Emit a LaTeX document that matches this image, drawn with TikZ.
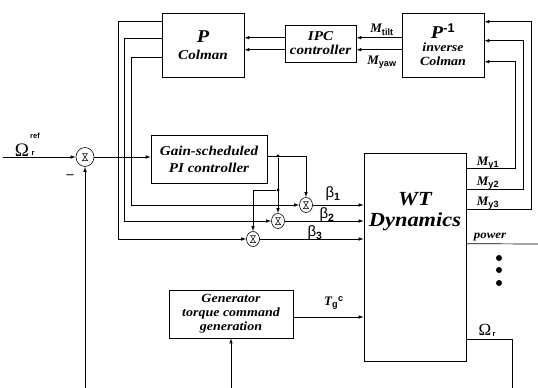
\documentclass[tikz,border=0pt]{standalone}
\usepackage{fontspec}
\setmainfont{Liberation Serif}
\setsansfont{Liberation Sans}
\newfontfamily\boxfont[FakeStretch=1.12]{Liberation Serif}
\usetikzlibrary{arrows.meta,shapes.geometric,calc}
\begin{document}
\begin{tikzpicture}[x=1pt,y=-1pt, line width=0.7pt,
 box/.style={draw, line width=0.6pt, align=center, inner sep=0pt,
   font=\boxfont\bfseries\itshape\fontsize{13.5}{14}\selectfont},
 arr/.style={-{Latex[length=5pt,width=3.5pt]}},
 sumnode/.style={draw, ellipse, line width=0.6pt, minimum width=13pt, minimum height=15pt, inner sep=0pt,
   path picture={\draw[line width=0.5pt] ([shift={(-2.5pt,3.5pt)}]path picture bounding box.center)
     -- ++(5pt,0pt) -- ++(-5pt,-7pt) -- ++(5pt,0pt) -- cycle;}},
 jdot/.style={circle, fill, inner sep=0pt, minimum size=3.2pt},
 lab/.style={inner sep=0pt, font=\fontsize{13}{13}\selectfont},
 tiny/.style={inner sep=0pt, font=\sffamily\bfseries\fontsize{7.5}{7.5}\selectfont}
]
\fill[white] (0,0) rectangle (538,388);
\useasboundingbox (0,0) rectangle (538,388);

% blocks
\node[box, minimum width=82pt, minimum height=64pt] (P) at (203,45)
  {{\fontsize{18}{18}\selectfont P}\\[3pt] Colman};
\node[box, minimum width=71pt, minimum height=37pt] (IPC) at (320.5,43.5)
  {IPC\\controller};
\node[box, minimum width=82pt, minimum height=64pt] (Pinv) at (443,45)
  {{\fontsize{18}{18}\selectfont P\textsuperscript{\sffamily\bfseries\upshape -1}}\\[-1pt]
   \fontsize{12.5}{13}\selectfont inverse\\ \fontsize{12.5}{13}\selectfont Colman};
\node[box, minimum width=116pt, minimum height=48pt, font=\boxfont\bfseries\itshape\fontsize{13.5}{17}\selectfont] (PI) at (209,159)
  {Gain-scheduled\\PI controller};
\node[box, minimum width=102pt, minimum height=208pt] (WT) at (415,257) {};
\node[inner sep=0pt, align=center, font=\boxfont\bfseries\itshape\fontsize{20}{21}\selectfont] (WTtxt) at (415,212)
  {WT\\Dynamics};
\node[box, minimum width=124pt, minimum height=48pt, font=\boxfont\bfseries\itshape\fontsize{12.5}{14}\selectfont] (Gen) at (231,314)
  {Generator\\torque command\\generation};

% sums
\node[sumnode, minimum width=18pt, minimum height=19pt] (s0) at (85,157) {};
\node[sumnode] (s1) at (306,205) {};
\node[sumnode] (s2) at (278,221) {};
\node[sumnode] (s3) at (253,239) {};

% junctions and free ends
\node[jdot] (j1) at (278,156) {};
\node[jdot] (j2) at (278,190) {};
\coordinate (refin) at (3,157);
\coordinate (fbin) at (85,388);
\coordinate (genin) at (231,388);
\coordinate (pwrend) at (538,244);
\coordinate (omend) at (512,388);
\coordinate (gout) at ($(Gen.east)+(0,3)$);

% reference path
\draw[arr] (refin) -- (s0.west);
\draw[arr] (fbin) -- (s0.south);
\draw[arr] (s0.east) -- (s0.east -| PI.west);

% PI output distribution
\draw[arr] (PI.east |- j1) -| (s1.north);
\draw[arr] (j1) -- (s2.north);
\draw[arr] (j2) -| (s3.north);

% IPC paths from P Colman to the sums
\draw[arr] ($(P.north west)+(0,9)$) -- ++(-43,0) |- (s3.west);
\draw[arr] ($(P.north west)+(0,26)$) -- ++(-37,0) |- (s2.west);
\draw[arr] ($(P.north west)+(0,45)$) -- ++(-30,0) |- (s1.west);

% sums to WT
\draw[arr] (s1.east) -- (s1.east -| WT.west);
\draw[arr] (s2.east) -- (s2.east -| WT.west);
\draw[arr] (s3.east) -- (s3.east -| WT.west);

% IPC chain
\draw[arr] ($(IPC.north west)+(0,13)$) -- ($(P.north east)+(0,25)$);
\draw[arr] ($(IPC.north west)+(0,25)$) -- ($(P.north east)+(0,37)$);
\draw[arr] ($(Pinv.north west)+(0,25)$) -- ($(IPC.north east)+(0,13)$);
\draw[arr] ($(Pinv.north west)+(0,37)$) -- ($(IPC.north east)+(0,25)$);

% blade moments back to inverse Colman
\draw[arr] ($(WT.north east)+(0,16)$) -- ++(49,0) |- ($(Pinv.north east)+(0,49)$);
\draw[arr] ($(WT.north east)+(0,37)$) -- ++(57,0) |- ($(Pinv.north east)+(0,28)$);
\draw[arr] ($(WT.north east)+(0,57)$) -- ++(65,0) |- ($(Pinv.north east)+(0,9)$);

% other outputs
\draw ($(WT.north east)+(0,91)$) -- (pwrend);
\draw ($(WT.north east)+(0,187)$) -| (omend);

% generator
\draw[arr] (genin) -- (Gen.south);
\draw[arr] (gout) -- (gout -| WT.west);

% dots
\fill (499,258) circle (3pt);
\fill (499,270) circle (3pt);
\fill (499,283) circle (3pt);

% labels
\node[lab, font=\fontsize{19}{19}\selectfont] (lref) at (22,150) {Ω};
\node[tiny] (lrefr) at (33,153) {r};
\node[tiny] (lrefs) at (35,136) {ref};
\node[lab, font=\bfseries\fontsize{14}{14}\selectfont] (lminus) at (70,177) {--};
\node[lab] (ltilt) at (382,30) {{\bfseries\itshape M}\textsubscript{\sffamily\bfseries tilt}};
\node[lab] (lyaw) at (382,62) {{\bfseries\itshape M}\textsubscript{\sffamily\bfseries yaw}};
\node[lab] (my1) at (488,163) {{\bfseries\itshape M}\textsubscript{\sffamily\bfseries y1}};
\node[lab] (my2) at (488,183) {{\bfseries\itshape M}\textsubscript{\sffamily\bfseries y2}};
\node[lab] (my3) at (488,203) {{\bfseries\itshape M}\textsubscript{\sffamily\bfseries y3}};
\node[lab, font=\fontsize{15}{15}\selectfont] (lb1) at (333,194) {{\sffamily β}\textsubscript{\sffamily\bfseries 1}};
\node[lab, font=\fontsize{15}{15}\selectfont] (lb2) at (327,215) {{\sffamily β}\textsubscript{\sffamily\bfseries 2}};
\node[lab, font=\fontsize{15}{15}\selectfont] (lb3) at (315,233) {{\sffamily β}\textsubscript{\sffamily\bfseries 3}};
\node[lab] (ltg) at (334,303) {{\itshape\bfseries T}\textsubscript{\sffamily\bfseries g}\textsuperscript{\sffamily\bfseries c}};
\node[lab, font=\boxfont\bfseries\itshape\fontsize{11.5}{12}\selectfont] (lpow) at (490,237) {power};
\node[lab, font=\fontsize{17}{17}\selectfont] (lom) at (485,330) {Ω};
\node[tiny] (lomr) at (494,334) {r};
\end{tikzpicture}
\end{document}
